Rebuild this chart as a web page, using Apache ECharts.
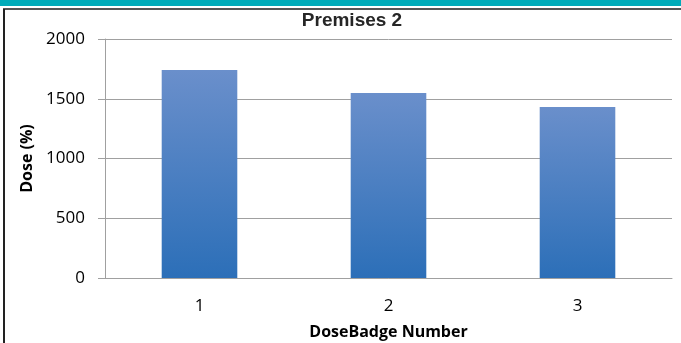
<!DOCTYPE html>
<html>
<head>
<meta charset="utf-8">
<script src="https://cdn.jsdelivr.net/npm/echarts@6/dist/echarts.min.js"></script>
<style>
html,body{margin:0;padding:0;background:#fff;}
#c{width:681px;height:343px;}
</style>
</head>
<body>
<div id="c"></div>
<script>
var categories = ['1', '2', '3'];
var doseValues = [1740, 1548, 1431];
var yTicks = [0, 500, 1000, 1500, 2000];

var chart = echarts.init(document.getElementById('c'), null, {renderer: 'canvas'});
var option = {
  animation: false,
  backgroundColor: '#ffffff',
  title: {
    text: 'Premises 2',
    left: 347,
    textAlign: 'center',
    top: 6,
    textStyle: {fontFamily: 'Liberation Sans', fontWeight: 'bold', fontSize: 19, color: '#262626'}
  },
  graphic: [
    {type: 'rect', shape: {x: 0, y: 0, width: 681, height: 6}, style: {fill: '#00abb9'}, silent: true},
    {type: 'line', shape: {x1: 3, y1: 9, x2: 681, y2: 9}, style: {stroke: '#555555', lineWidth: 2}, silent: true},
    {type: 'line', shape: {x1: 4, y1: 9, x2: 4, y2: 343}, style: {stroke: '#222222', lineWidth: 2}, silent: true}
  ],
  grid: {left: 105, right: 9, top: 39, bottom: 65, containLabel: false, outerBoundsMode: 'none'},
  xAxis: {
    type: 'category',
    data: categories,
    name: 'DoseBadge Number',
    nameLocation: 'middle',
    nameGap: 46,
    nameTextStyle: {fontFamily: 'Open Sans', fontWeight: 'bold', fontSize: 16, color: '#000'},
    axisLine: {show: true, lineStyle: {color: '#a0a0a0', width: 1}},
    axisTick: {show: false},
    axisLabel: {fontFamily: 'Open Sans', fontSize: 17, color: '#000', margin: 20}
  },
  yAxis: {
    type: 'value',
    min: yTicks[0],
    max: yTicks[yTicks.length - 1],
    interval: 500,
    name: 'Dose (%)',
    nameLocation: 'middle',
    nameRotate: 90,
    nameGap: 67,
    nameTextStyle: {fontFamily: 'Open Sans', fontWeight: 'bold', fontSize: 16, color: '#000'},
    axisLine: {show: true, lineStyle: {color: '#a0a0a0', width: 1}},
    axisTick: {show: true, length: 7, lineStyle: {color: '#a0a0a0'}},
    axisLabel: {fontFamily: 'Open Sans', fontSize: 17, color: '#000', margin: 20,
      formatter: function (v) { return String(v); }},
    splitLine: {show: true, lineStyle: {color: '#a0a0a0', width: 1}}
  },
  series: [{
    type: 'bar',
    data: doseValues,
    barCategoryGap: '60%',
    itemStyle: {
      color: new echarts.graphic.LinearGradient(0, 0, 0, 1, [
        {offset: 0, color: '#6a8fcb'},
        {offset: 1, color: '#2c6fb8'}
      ])
    }
  }]
};
chart.setOption(option);
</script>
</body>
</html>
